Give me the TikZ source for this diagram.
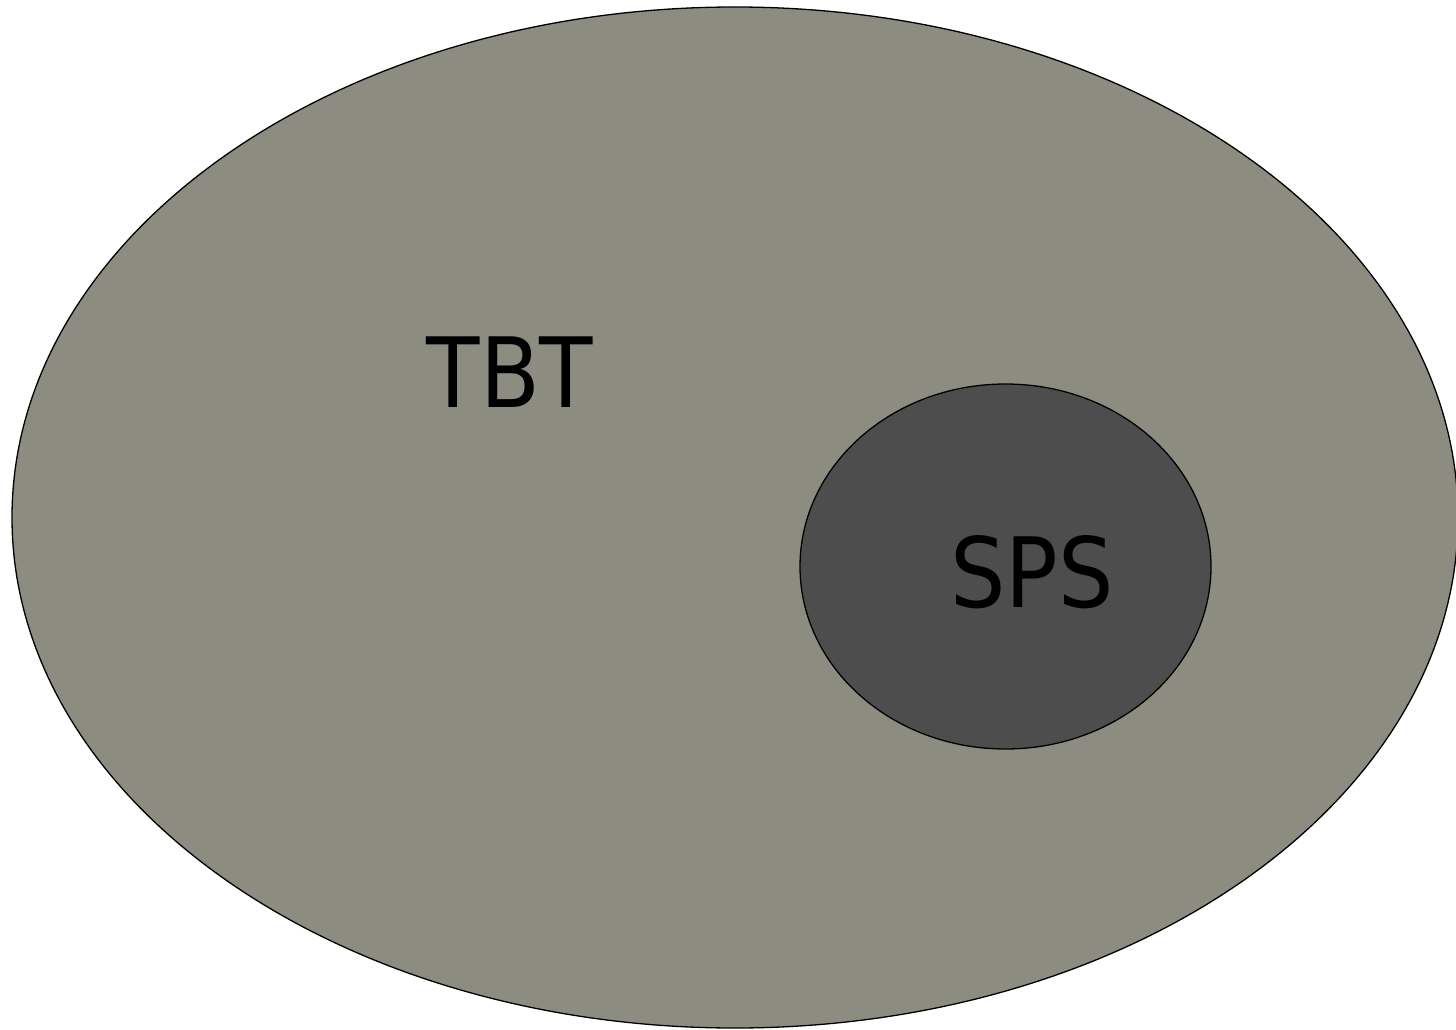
\documentclass[tikz,border=0pt]{standalone}
\usepackage{fontspec}
\setmainfont{DejaVu Sans Condensed}
\usetikzlibrary{shapes.geometric}
\definecolor{outerfill}{RGB}{140,141,128}
\definecolor{innerfill}{RGB}{77,77,77}
\begin{document}
\begin{tikzpicture}[x=1pt,y=-1pt,
  setshape/.style={draw=black, line width=1.3pt},
  lbl/.style={font=\fontsize{97}{100}\selectfont, text=black, inner sep=0pt, anchor=base}]
\useasboundingbox (0,0) rectangle (1456,1030);
\fill[white] (0,0) rectangle (1456,1030);
\node[setshape, fill=outerfill, ellipse, minimum width=1446pt, minimum height=1021pt, inner sep=0pt] (tbt) at (735,517.5) {};
\node[setshape, fill=innerfill, ellipse, minimum width=411pt, minimum height=365pt, inner sep=0pt] (sps) at (1005.5,566.5) {};
\node[lbl] (tbtlabel) at (510,407) {TBT};
\node[lbl] (spslabel) at (1032,607) {SPS};
\end{tikzpicture}
\end{document}
